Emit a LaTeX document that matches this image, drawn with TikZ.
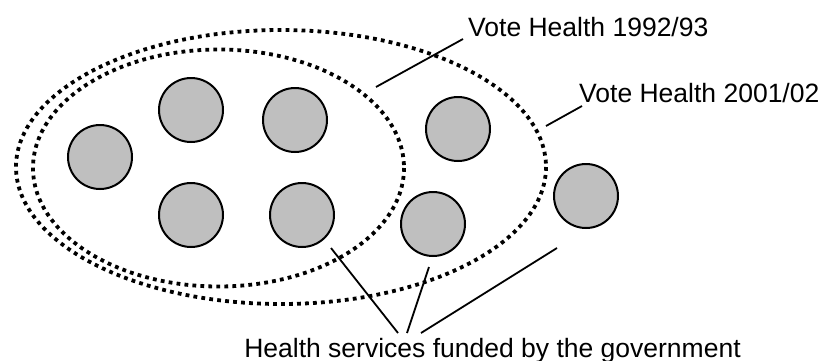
\documentclass[tikz,border=0pt]{standalone}
\usepackage{fontspec}
\setmainfont{Liberation Sans}
\begin{document}
\begin{tikzpicture}[x=1pt,y=-1pt,
  svc/.style={circle,draw=black,fill=gray!50!white,line width=2pt,minimum size=64pt,inner sep=0pt},
  vote/.style={draw=black,line width=3.8pt,dash pattern=on 3.8pt off 4.2pt},
  leader/.style={draw=black,line width=1.8pt},
  lbl/.style={inner sep=0pt,font=\fontsize{26.5}{30}\selectfont}]
\useasboundingbox (0,0) rectangle (824,360);
\fill[white] (0,0) rectangle (824,360);
% ellipses
\draw[vote] (281,167) ellipse [x radius=265, y radius=137];
\draw[vote] (218.5,168) ellipse [x radius=185.5, y radius=118.5];
% services
\node[svc] (c1) at (100,157) {};
\node[svc] (c2) at (191,110) {};
\node[svc] (c3) at (295,120) {};
\node[svc] (c4) at (191,215) {};
\node[svc] (c5) at (302,215) {};
\node[svc] (c6) at (458,129) {};
\node[svc] (c7) at (433,224) {};
\node[svc] (c8) at (586,196) {};
% labels
\node[lbl,anchor=base west] (l1) at (468,36) {Vote Health 1992/93};
\node[lbl,anchor=base west] (l2) at (579,102) {Vote Health 2001/02};
\node[lbl,anchor=base] (l3) at (492.5,357) {Health services funded by the government};
% leader ends
\coordinate (p1a) at (463,39);
\coordinate (p1b) at (376,87);
\coordinate (p2a) at (582,106);
\coordinate (p2b) at (546,126);
\coordinate (q1) at (331,248);
\coordinate (q2) at (429,267);
\coordinate (q3) at (557,248);
\coordinate (r1) at (398,333);
\coordinate (r2) at (407,333);
\coordinate (r3) at (421,333);
\draw[leader] (p1a) -- (p1b);
\draw[leader] (p2a) -- (p2b);
\draw[leader] (q1) -- (r1);
\draw[leader] (q2) -- (r2);
\draw[leader] (q3) -- (r3);
\end{tikzpicture}
\end{document}
